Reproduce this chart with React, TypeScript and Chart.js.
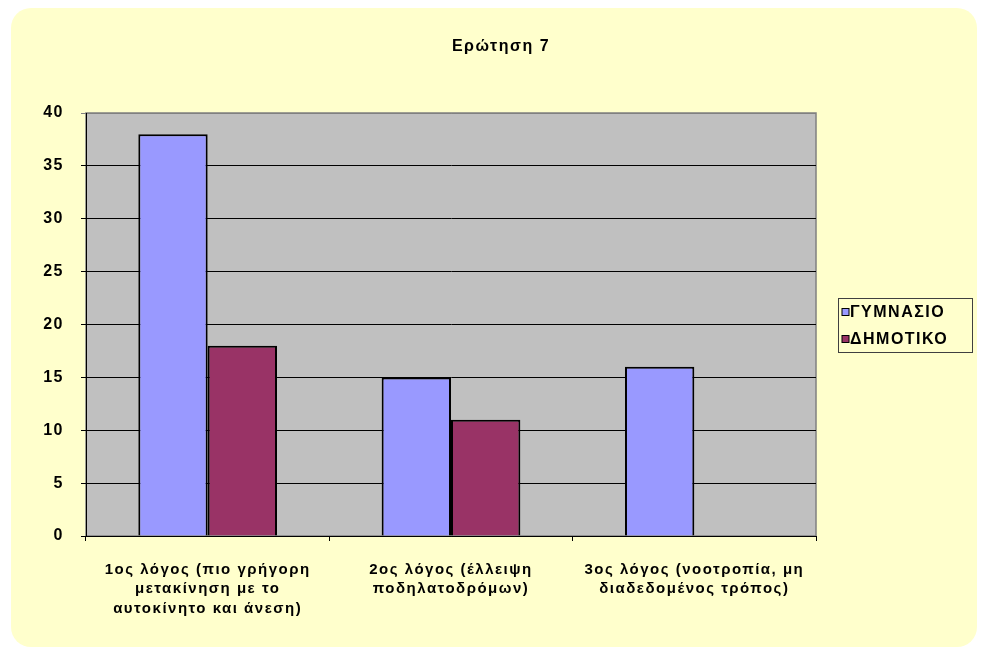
import React, { useEffect, useRef } from "react";
import { Chart, registerables } from "chart.js";

Chart.register(...registerables);

const titleText = "Ερώτηση 7";
const categories: string[][] = [
  ["1ος λόγος (πιο γρήγορη", "μετακίνηση με το", "αυτοκίνητο και άνεση)"],
  ["2ος λόγος (έλλειψη", "ποδηλατοδρόμων)"],
  ["3ος λόγος (νοοτροπία, μη", "διαδεδομένος τρόπος)"],
];
const seriesNames = ["ΓΥΜΝΑΣΙΟ", "ΔΗΜΟΤΙΚΟ"];
const gymnasioValues = [38, 15, 16];
const dimotikoValues = [18, 11, 0];
const yTicks = [0, 5, 10, 15, 20, 25, 30, 35, 40];

const FONT = "Arial, 'Liberation Sans', sans-serif";
const YELLOW = "#FFFFCC";
const colors = ["#9999FF", "#993366"];
const SPACING = "1.5px";

const bgPlugin = {
  id: "bgPlugin",
  beforeLayout(chart: any) {
    (chart.ctx as any).letterSpacing = SPACING;
  },
  beforeDraw(chart: any) {
    const { ctx, chartArea } = chart;
    (ctx as any).letterSpacing = SPACING;
    ctx.save();
    ctx.fillStyle = "#FFFFFF";
    ctx.fillRect(0, 0, chart.width, chart.height);
    ctx.fillStyle = YELLOW;
    ctx.beginPath();
    (ctx as any).roundRect(11, 8, 966, 639, 20);
    ctx.fill();
    ctx.fillStyle = "#C0C0C0";
    ctx.fillRect(chartArea.left, chartArea.top, chartArea.right - chartArea.left, chartArea.bottom - chartArea.top);
    ctx.strokeStyle = "#808080";
    ctx.lineWidth = 1.5;
    ctx.strokeRect(chartArea.left, chartArea.top, chartArea.right - chartArea.left, chartArea.bottom - chartArea.top);
    ctx.restore();
  },
  afterDraw(chart: any) {
    const { ctx } = chart;
    const x = 838.5, y = 298.5, w = 134, h = 54;
    ctx.save();
    ctx.fillStyle = YELLOW;
    ctx.fillRect(x, y, w, h);
    ctx.strokeStyle = "#404040";
    ctx.lineWidth = 1;
    ctx.strokeRect(x, y, w, h);
    ctx.font = `bold 16px ${FONT}`;
    (ctx as any).letterSpacing = SPACING;
    ctx.textBaseline = "middle";
    ctx.textAlign = "left";
    chart.data.datasets.forEach((ds: any, i: number) => {
      const cy = 312 + i * 27;
      ctx.fillStyle = ds.backgroundColor;
      ctx.fillRect(842, cy - 3.5, 7, 7);
      ctx.strokeStyle = "#000";
      ctx.strokeRect(842, cy - 3.5, 7, 7);
      ctx.fillStyle = "#000";
      ctx.fillText(ds.label, 850, cy + 0.5);
    });
    ctx.restore();
  },
};

export default function App() {
  const ref = useRef<HTMLCanvasElement | null>(null);
  useEffect(() => {
    if (!ref.current) return;
    const chart = new Chart(ref.current, {
      type: "bar",
      data: {
        labels: categories,
        datasets: [
          {
            label: seriesNames[0],
            data: gymnasioValues,
            backgroundColor: colors[0],
            borderColor: "#000",
            borderWidth: 2,
            categoryPercentage: 0.57,
            barPercentage: 1,
          },
          {
            label: seriesNames[1],
            data: dimotikoValues,
            backgroundColor: colors[1],
            borderColor: "#000",
            borderWidth: 2,
            categoryPercentage: 0.57,
            barPercentage: 1,
          },
        ],
      },
      options: {
        responsive: false,
        animation: false,
        layout: { padding: { left: 21, right: 0, top: 0, bottom: 0 } },
        plugins: {
          legend: { display: false },
          tooltip: { enabled: false },
          title: {
            display: true,
            text: titleText,
            color: "#000",
            font: { family: FONT, size: 16, weight: "bold", lineHeight: 1.2 },
            padding: { top: 37, bottom: 56.8 },
          },
        },
        scales: {
          x: {
            grid: { display: true, drawOnChartArea: false, drawTicks: true, tickLength: 5, color: "#000", offset: true },
            border: { display: true, color: "#000", width: 1 },
            ticks: {
              color: "#000",
              font: { family: FONT, size: 15, weight: "bold", lineHeight: 1.3 },
              padding: 19,
              maxRotation: 0,
              autoSkip: false,
            },
            afterFit(scale: any) {
              scale.height = 114;
            },
          },
          y: {
            min: 0,
            max: 40,
            afterBuildTicks(scale: any) {
              scale.ticks = yTicks.map((v) => ({ value: v }));
            },
            grid: {
              drawTicks: true,
              tickLength: 5,
              color: (c: any) => (c.tick && c.tick.value === 40 ? "#808080" : "#000"),
              lineWidth: 1,
            },
            border: { display: true, color: "#000", width: 1 },
            ticks: {
              color: "#000",
              font: { family: FONT, size: 16, weight: "bold" },
              padding: 17,
            },
            afterFit(scale: any) {
              scale.width = 65;
            },
          },
          yR: {
            position: "right",
            display: true,
            min: 0,
            max: 1,
            grid: { display: false, drawTicks: false },
            border: { display: false },
            ticks: { display: false },
            afterFit(scale: any) {
              scale.width = 165;
            },
          },
        },
      },
      plugins: [bgPlugin],
    } as any);
    return () => chart.destroy();
  }, []);
  return (
    <div style={{ position: "absolute", left: 0, top: 0, width: 981, height: 650 }}>
      <canvas ref={ref} width={981} height={650} style={{ display: "block", width: 981, height: 650 }} />
    </div>
  );
}
